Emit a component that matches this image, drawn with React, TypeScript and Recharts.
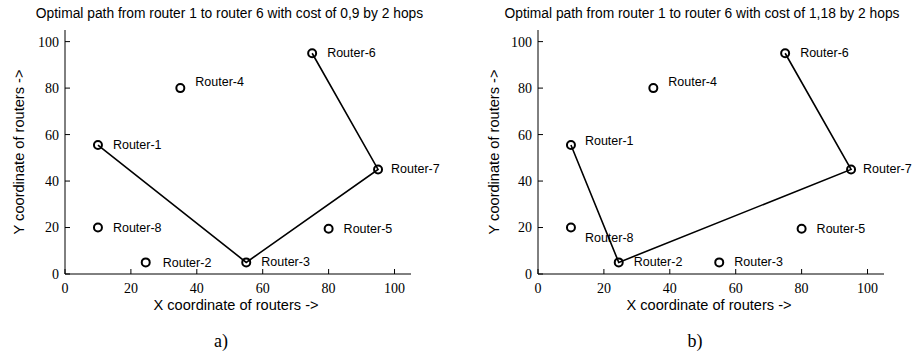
import React from "react";
import {
  ScatterChart, Scatter, XAxis, YAxis, LabelList,
} from "recharts";

// router positions
const routerNames = ["Router-1", "Router-2", "Router-3", "Router-4", "Router-5", "Router-6", "Router-7", "Router-8"];
const routerX = [10, 24.5, 55, 35, 80, 75, 95, 10];
const routerY = [55.5, 5, 5, 80, 19.5, 95, 45, 20];

// optimal paths (router numbers, in order)
const pathA = [1, 3, 7, 6];
const pathB = [1, 2, 7, 6];

const titleA = "Optimal path from router 1 to router 6 with cost of 0,9 by 2 hops";
const titleB = "Optimal path from router 1 to router 6 with cost of 1,18 by 2 hops";

const axisTicks = [0, 20, 40, 60, 80, 100];

// label nudges (px) for the two panels, by router number
const nudgeA: Record<number, [number, number]> = { 4: [15, -6], 2: [17, 1], 7: [13, 0] };
const nudgeB: Record<number, [number, number]> = { 4: [15, -6], 1: [14, -4], 8: [14, 10], 7: [12, 0] };

const SANS = "'Liberation Sans', Arial, sans-serif";
const SERIF = "'Liberation Serif', 'Times New Roman', serif";

const routers = routerNames.map((name, i) => ({ id: i + 1, name, x: routerX[i], y: routerY[i] }));

const Ring = (props: any) => {
  const { cx, cy } = props;
  if (cx == null || cy == null) return <g />;
  return <circle cx={cx} cy={cy} r={4} fill="none" stroke="#000" strokeWidth={2} />;
};

const Nothing = () => <g />;

function Panel({
  path, nudge, marginLeft, marginRight,
}: {
  path: number[];
  nudge: Record<number, [number, number]>;
  marginLeft: number;
  marginRight: number;
}) {
  const pathData = path.map((n) => routers[n - 1]);
  const renderLabel = (p: any) => {
    const { x, y, width, height, index } = p;
    const r = routers[index];
    const [dx, dy] = nudge[r.id] ?? [15, 0];
    const cx = x + width / 2;
    const cy = y + height / 2;
    return (
      <text x={cx + dx} y={cy + dy} dominantBaseline="central" fontSize={12.5} fontFamily={SANS} fill="#000">
        {r.name}
      </text>
    );
  };
  const tickStyle = { fontSize: 14, fontFamily: SERIF, fill: "#000" };
  return (
    <ScatterChart
      width={459}
      height={351}
      margin={{ top: 30, right: marginRight, bottom: 47, left: marginLeft }}
    >
      <XAxis
        xAxisId="b" type="number" dataKey="x" domain={[0, 105]} ticks={axisTicks}
        height={30} tickSize={-5} tickMargin={14} tick={tickStyle}
        axisLine={{ stroke: "#000" }} tickLine={{ stroke: "#000" }}
      />
      <XAxis
        xAxisId="t" orientation="top" type="number" domain={[0, 105]} ticks={axisTicks}
        height={0} tickSize={-5} tick={false}
        axisLine={{ stroke: "#000" }} tickLine={{ stroke: "#000" }}
      />
      <YAxis
        yAxisId="l" type="number" dataKey="y" domain={[0, 105]} ticks={axisTicks}
        width={40} tickSize={-5} tickMargin={11} tick={tickStyle}
        axisLine={{ stroke: "#000" }} tickLine={{ stroke: "#000" }}
      />
      <YAxis
        yAxisId="r" orientation="right" type="number" domain={[0, 105]} ticks={axisTicks}
        width={0} tickSize={-5} tick={false}
        axisLine={{ stroke: "#000" }} tickLine={{ stroke: "#000" }}
      />
      <Scatter
        xAxisId="b" yAxisId="l" data={pathData} line={{ stroke: "#000", strokeWidth: 1.6 }}
        shape={Nothing} isAnimationActive={false}
      />
      <Scatter xAxisId="b" yAxisId="l" data={routers} shape={Ring} isAnimationActive={false}>
        <LabelList dataKey="name" content={renderLabel} />
      </Scatter>
    </ScatterChart>
  );
}

const abs = (left: number, top: number, extra: React.CSSProperties = {}): React.CSSProperties => ({
  position: "absolute", left, top, whiteSpace: "nowrap", ...extra,
});

export default function App() {
  return (
    <div style={{ position: "absolute", left: 0, top: 0, width: 918, height: 351, background: "#fff", overflow: "hidden" }}>
      <div style={abs(0, 0)}>
        <Panel path={pathA} nudge={nudgeA} marginLeft={25} marginRight={48} />
      </div>
      <div style={abs(459, 0)}>
        <Panel path={pathB} nudge={nudgeB} marginLeft={39} marginRight={34} />
      </div>

      <div style={abs(229.5, 6, { transform: "translateX(-50%)", fontFamily: SANS, fontSize: 13.8 })}>{titleA}</div>
      <div style={abs(702, 6, { transform: "translateX(-50%)", fontFamily: SANS, fontSize: 13.8 })}>{titleB}</div>

      <div style={abs(236, 297, { transform: "translateX(-50%)", fontFamily: SANS, fontSize: 14.6 })}>X coordinate of routers -&gt;</div>
      <div style={abs(709, 297, { transform: "translateX(-50%)", fontFamily: SANS, fontSize: 14.6 })}>X coordinate of routers -&gt;</div>

      <div style={abs(19, 152, { transform: "translate(-50%, -50%) rotate(-90deg)", fontFamily: SANS, fontSize: 14.6 })}>Y coordinate of routers -&gt;</div>
      <div style={abs(494, 152, { transform: "translate(-50%, -50%) rotate(-90deg)", fontFamily: SANS, fontSize: 14.6 })}>Y coordinate of routers -&gt;</div>

      <div style={abs(221, 331, { transform: "translateX(-50%)", fontFamily: SERIF, fontSize: 18 })}>a)</div>
      <div style={abs(695, 331, { transform: "translateX(-50%)", fontFamily: SERIF, fontSize: 18 })}>b)</div>
    </div>
  );
}
